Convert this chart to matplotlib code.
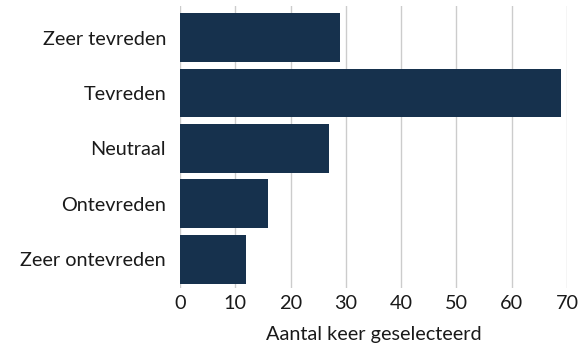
#!/usr/bin/env python3
import matplotlib
matplotlib.use("Agg")
import matplotlib.pyplot as plt

# Answer categories, top to bottom, and how often each one was picked
categories = ["Zeer tevreden", "Tevreden", "Neutraal", "Ontevreden", "Zeer ontevreden"]
counts = [29, 69, 27, 16, 12]
xticks = [0, 10, 20, 30, 40, 50, 60, 70]

BAR_COLOR = "#16314d"
GRID_COLOR = "#cccccc"
TEXT_COLOR = "#1a1a1a"
FONT_SIZE = 14.3

plt.rcParams["font.family"] = ["Lato", "DejaVu Sans"]

fig = plt.figure(figsize=(5.8, 3.45), dpi=100)
ax = fig.add_axes([180 / 580, 1 - 288 / 345, 387 / 580, 282 / 345])

ypos = list(range(len(categories)))
ax.barh(ypos, counts, height=0.88, color=BAR_COLOR, zorder=3)

ax.set_ylim(4.52, -0.57)
ax.set_xlim(0, 70)
ax.set_xticks(xticks)
ax.set_yticks(ypos)
ax.set_yticklabels(categories)

ax.grid(axis="x", color=GRID_COLOR, linewidth=1, zorder=0)
ax.grid(axis="y", visible=False)
for spine in ax.spines.values():
	spine.set_visible(False)

ax.tick_params(axis="both", length=0, labelsize=FONT_SIZE, colors=TEXT_COLOR)
ax.tick_params(axis="x", pad=5)
ax.tick_params(axis="y", pad=10)
ax.set_xlabel("Aantal keer geselecteerd", fontsize=FONT_SIZE, color=TEXT_COLOR, labelpad=10)

fig.savefig("out.png", dpi=100)
